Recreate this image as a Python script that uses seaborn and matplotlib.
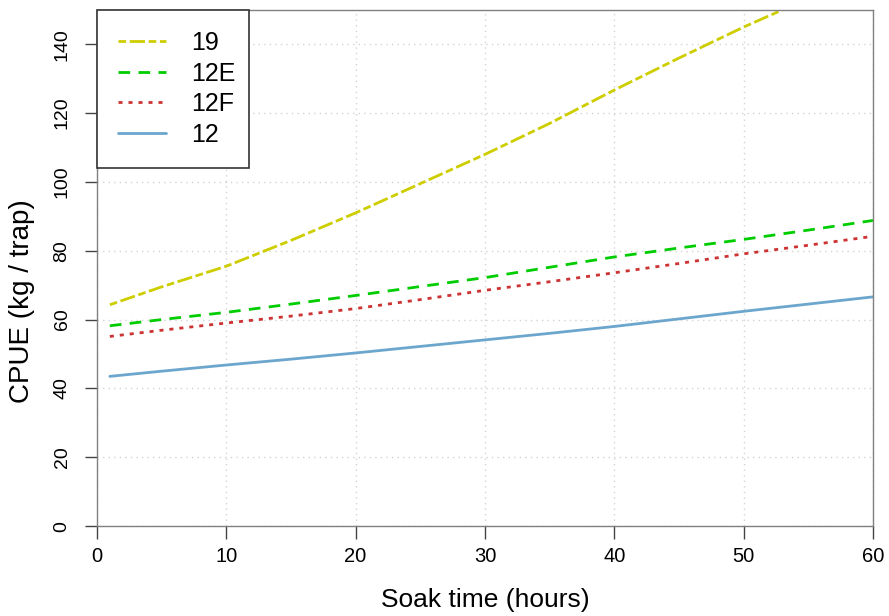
import matplotlib
matplotlib.use("Agg")
import matplotlib.pyplot as plt
import seaborn as sns
import pandas as pd

# values
hours = [1, 5, 10, 15, 20, 25, 30, 35, 40, 45, 50, 55, 60]
cpue_19 = [64.3, 69.5, 75.5, 83.0, 91.0, 99.5, 108.0, 117.0, 126.7, 136.0, 145.0]
hours_19 = [1, 5, 10, 15, 20, 25, 30, 35, 40, 45, 50]
hours_19_end = 53
cpue_19_end = 150.0
cpue_12E = [58.2, 60.0, 62.1, 64.5, 67.0, 69.6, 72.2, 75.2, 78.2, 80.8, 83.3, 86.0, 88.8]
cpue_12F = [55.1, 56.9, 59.0, 61.0, 63.2, 65.8, 68.5, 71.0, 73.6, 76.3, 79.1, 81.6, 84.2]
cpue_12 = [43.5, 45.0, 46.8, 48.5, 50.3, 52.2, 54.1, 56.0, 58.0, 60.2, 62.4, 64.5, 66.6]

areas = ["19", "12E", "12F", "12"]
colors = {"19": "#CDCD00", "12E": "#00CD00", "12F": "#CD3333", "12": "#6CA6CD"}
dashes = {"19": (5.5, 2.6, 11, 2.6), "12E": (8.4, 6), "12F": (2.9, 4.3), "12": ""}

frames = [
    pd.DataFrame({"hours": hours_19 + [hours_19_end], "cpue": cpue_19 + [cpue_19_end], "area": "19"}),
    pd.DataFrame({"hours": hours, "cpue": cpue_12E, "area": "12E"}),
    pd.DataFrame({"hours": hours, "cpue": cpue_12F, "area": "12F"}),
    pd.DataFrame({"hours": hours, "cpue": cpue_12, "area": "12"}),
]
df = pd.concat(frames, ignore_index=True)

sns.set_theme(style="white")
plt.rcParams["font.family"] = ["Liberation Sans", "DejaVu Sans"]
plt.rcParams["lines.scale_dashes"] = False
plt.rcParams["text.color"] = "black"
plt.rcParams["axes.labelcolor"] = "black"
plt.rcParams["xtick.color"] = "black"
plt.rcParams["ytick.color"] = "black"

fig = plt.figure(figsize=(8.89, 6.16), dpi=100)
ax = fig.add_axes([0.109, 0.146, 0.873, 0.838])

sns.lineplot(data=df, x="hours", y="cpue", hue="area", style="area",
             hue_order=areas, style_order=areas, palette=colors, dashes=dashes,
             linewidth=2, sort=False, ax=ax)

ax.set_xlim(0, 60)
ax.set_ylim(0, 150)
ax.set_xticks(range(0, 61, 10))
ax.set_yticks(range(0, 141, 20))
ax.grid(True, color="#d3d3d3", linestyle=(0, (1, 3)), linewidth=1)

for s in ax.spines.values():
    s.set_color("#808080")
    s.set_linewidth(1)

ax.tick_params(axis="both", direction="out", length=9, width=1, color="#444444",
               labelcolor="black", bottom=True, left=True)
ax.tick_params(axis="x", labelsize=14.5, pad=6)
ax.tick_params(axis="y", labelsize=14, pad=10)
for lab in ax.get_yticklabels():
    lab.set_rotation(90)
    lab.set_va("center")

ax.set_xlabel("Soak time (hours)", fontsize=19)
ax.set_ylabel("CPUE (kg / trap)", fontsize=20)
ax.xaxis.set_label_coords(0.5, -0.143)
ax.xaxis.label.set_va("center")
ax.yaxis.set_label_coords(-0.0966, 0.436)
ax.yaxis.label.set_va("center")

old = ax.get_legend()
handles = old.legend_handles
labels = [t.get_text() for t in old.get_texts()]
leg = ax.legend(handles, labels, loc="upper left", bbox_to_anchor=(0, 0, 152 / 776, 1),
                mode="expand", borderaxespad=0, fontsize=18, frameon=True,
                fancybox=False, edgecolor="#333333", framealpha=1,
                handlelength=1.92, handletextpad=1.0, labelspacing=0.26, borderpad=0.85)
leg.get_frame().set_linewidth(1.2)
for line in leg.get_lines():
    line.set_linewidth(2)
for t in leg.get_texts():
    t.set_color("black")

fig.savefig("out.png", dpi=100)
